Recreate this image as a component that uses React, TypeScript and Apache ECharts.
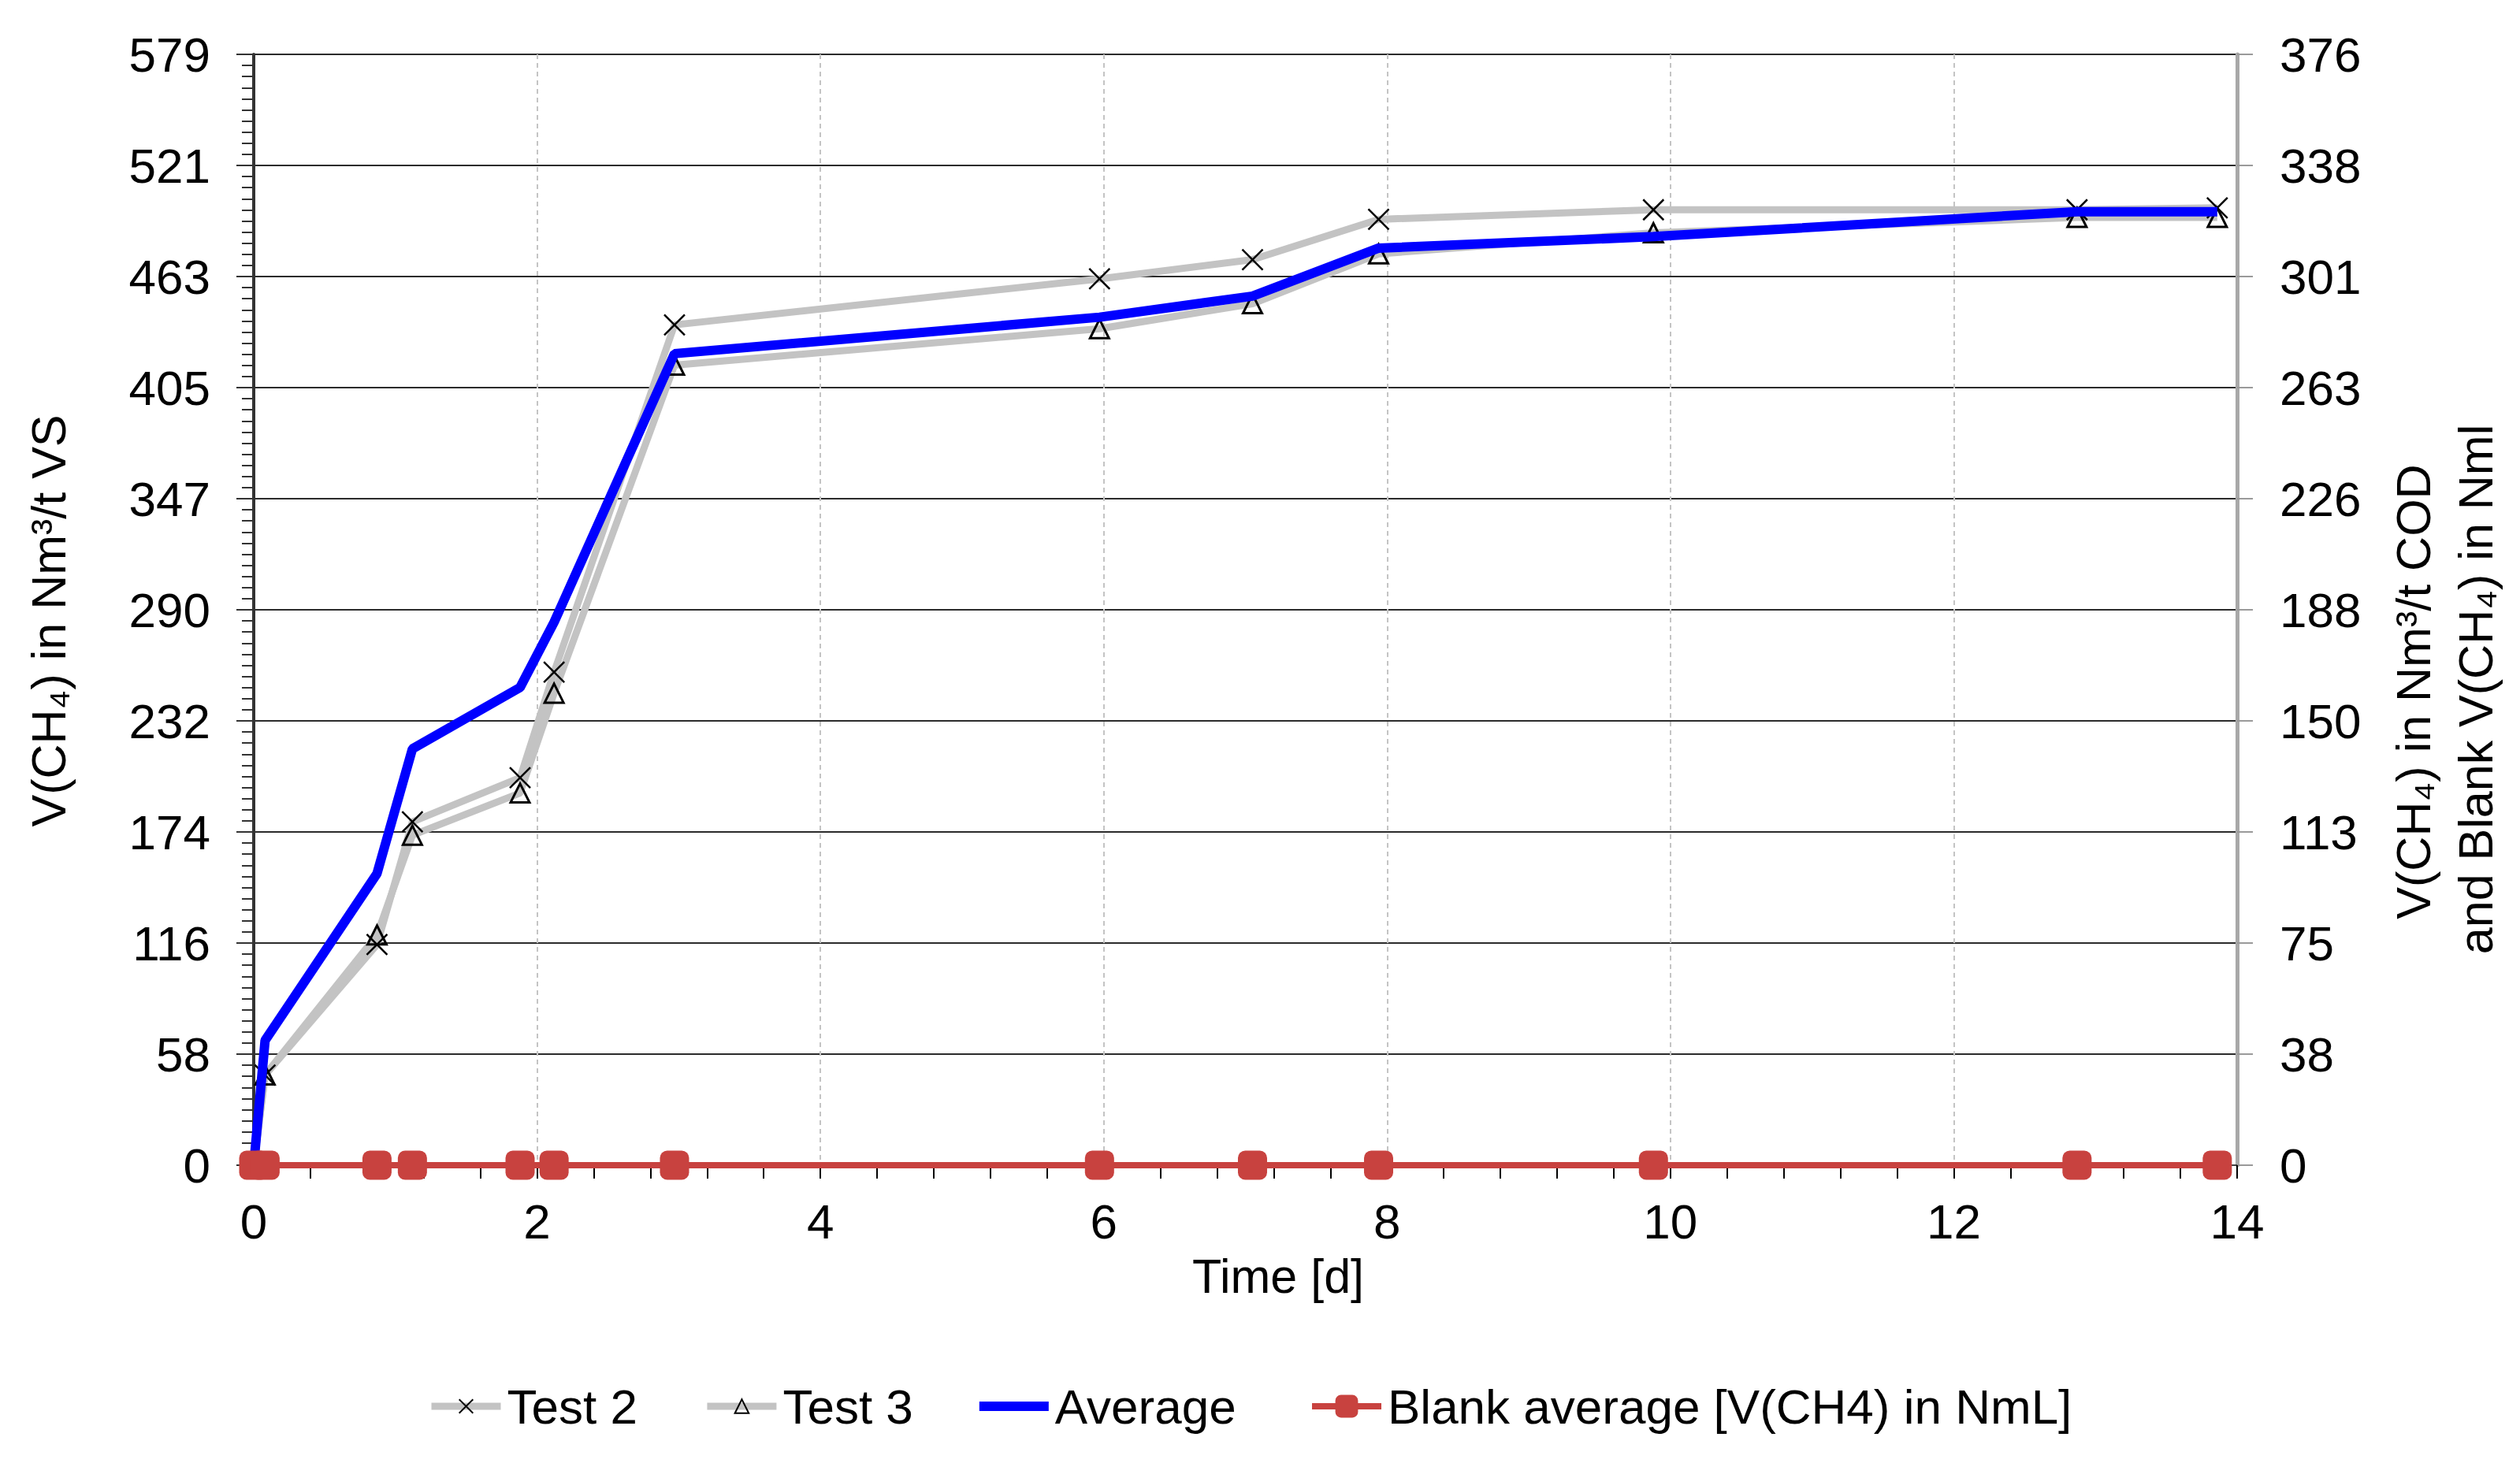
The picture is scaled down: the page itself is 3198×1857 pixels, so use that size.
import React, { useEffect, useRef } from "react";
import * as echarts from "echarts";

// Time in days
const days = [0, 0.08, 0.87, 1.12, 1.88, 2.12, 2.97, 5.97, 7.05, 7.94, 9.88, 12.87, 13.86];
// V(CH4) in Nm3/t VS
const test2 = [0, 47, 115, 179, 202, 257, 438, 462, 472, 493, 498, 498, 499];
const test3 = [0, 47, 120, 172, 194, 246, 417, 436, 449, 475, 486, 494, 494];
const average = [0, 65, 152, 217, 249, 283, 423, 442, 453, 478, 484, 497, 497];
// Blank V(CH4) in NmL (right axis)
const blank = [0, 0, 0, 0, 0, 0, 0, 0, 0, 0, 0, 0, 0];

const leftTickLabels = [0, 58, 116, 174, 232, 290, 347, 405, 463, 521, 579];
const rightTickLabels = [0, 38, 75, 113, 150, 188, 226, 263, 301, 338, 376];
const leftMax = 579;
const leftStep = 57.9;
const rightMax = 376;
const rightStep = 37.6;
const xMax = 14;
const xStep = 2;

const seriesNames = ["Test 2", "Test 3", "Average", "Blank average [V(CH4) in NmL]"];
const leftTitle = "V(CH\u2084) in Nm\u00B3/t VS";
const rightTitle1 = "V(CH\u2084) in Nm\u00B3/t COD";
const rightTitle2 = "and Blank V(CH\u2084) in Nml";
const xTitle = "Time [d]";

const FONT = "'Liberation Sans', Arial, Helvetica, sans-serif";

const pairs = (ys: number[]) => days.map((d, i) => [d, ys[i]]);

export default function App() {
  const ref = useRef<HTMLDivElement>(null);

  useEffect(() => {
    if (!ref.current) return;
    const chart = echarts.init(ref.current, null, { renderer: "svg" });
    const legendText = { fontSize: 62, color: "#000", fontFamily: FONT, padding: [0, 0, 0, 3] };
    const option: any = {
      animation: false,
      backgroundColor: "#ffffff",
      textStyle: { fontFamily: FONT, color: "#000" },
      grid: { left: 322, right: 359, top: 69, bottom: 378, containLabel: false },
      legend: [
        {
          data: [
            seriesNames[0],
            seriesNames[1],
            { name: seriesNames[2], icon: "path://M0,0H88V12H0Z" },
          ],
          left: 538,
          top: 1749,
          itemWidth: 88,
          itemHeight: 22,
          itemGap: 84,
          lineStyle: { width: "inherit" },
          textStyle: legendText,
        },
        {
          data: [seriesNames[3]],
          left: 1656,
          top: 1749,
          itemWidth: 88,
          itemHeight: 36,
          lineStyle: { width: "inherit" },
          textStyle: legendText,
        },
      ],
      xAxis: {
        type: "value",
        min: 0,
        max: xMax,
        interval: xStep,
        axisLine: { show: true, onZero: false, lineStyle: { color: "#404040", width: 2 } },
        axisTick: { show: true, length: 17, lineStyle: { color: "#000", width: 2 } },
        minorTick: { show: true, splitNumber: 5, length: 17, lineStyle: { color: "#000", width: 2 } },
        axisLabel: { fontSize: 62, color: "#000", margin: 40, fontFamily: FONT },
        splitLine: {
          show: true,
          showMinLine: false,
          showMaxLine: false,
          lineStyle: { color: "#c4c4c4", width: 2, type: [6, 5] },
        },
      },
      yAxis: [
        {
          type: "value",
          position: "left",
          min: 0,
          max: leftMax,
          interval: leftStep,
          axisLine: { show: true, lineStyle: { color: "#333333", width: 4 } },
          axisTick: { show: true, length: 22, lineStyle: { color: "#333333", width: 2 } },
          minorTick: { show: true, splitNumber: 10, length: 15, lineStyle: { color: "#333333", width: 2 } },
          axisLabel: {
            fontSize: 62,
            color: "#000",
            margin: 55,
            fontFamily: FONT,
            formatter: (v: number, i: number) => String(leftTickLabels[i] ?? Math.round(v)),
          },
          splitLine: { show: true, lineStyle: { color: "#2b2b2b", width: 2 } },
        },
        {
          type: "value",
          position: "right",
          min: 0,
          max: rightMax,
          interval: rightStep,
          axisLine: { show: true, lineStyle: { color: "#a8a8a8", width: 5 } },
          axisTick: { show: true, length: 20, lineStyle: { color: "#9a9a9a", width: 2 } },
          axisLabel: {
            fontSize: 62,
            color: "#000",
            margin: 54,
            fontFamily: FONT,
            formatter: (v: number, i: number) => String(rightTickLabels[i] ?? Math.round(v)),
          },
          splitLine: { show: false },
        },
      ],
      series: [
        {
          name: seriesNames[0],
          type: "line",
          yAxisIndex: 0,
          data: pairs(test2),
          symbol: "path://M0,0L10,10M10,0L0,10",
          symbolSize: 26,
          lineStyle: { color: "#c3c3c3", width: 9 },
          itemStyle: { color: "rgba(0,0,0,0)", borderColor: "#000", borderWidth: 2.5 },
          clip: false,
          z: 2,
        },
        {
          name: seriesNames[1],
          type: "line",
          yAxisIndex: 0,
          data: pairs(test3),
          symbol: "triangle",
          symbolSize: 24,
          lineStyle: { color: "#c3c3c3", width: 9 },
          itemStyle: { color: "rgba(0,0,0,0)", borderColor: "#000", borderWidth: 3 },
          clip: false,
          z: 2,
        },
        {
          name: seriesNames[2],
          type: "line",
          yAxisIndex: 0,
          data: pairs(average),
          symbol: "none",
          lineStyle: { color: "#0000ff", width: 12 },
          itemStyle: { color: "#0000ff" },
          clip: false,
          z: 3,
        },
        {
          name: seriesNames[3],
          type: "line",
          yAxisIndex: 1,
          data: pairs(blank),
          symbol: "roundRect",
          symbolSize: 37,
          lineStyle: { color: "#c8423f", width: 8 },
          itemStyle: { color: "#c8423f" },
          clip: false,
          z: 4,
        },
      ],
      graphic: [
        {
          type: "text",
          x: 62,
          y: 788,
          rotation: Math.PI / 2,
          style: { text: leftTitle, fontSize: 61, fontFamily: FONT, fill: "#000", align: "center", verticalAlign: "middle" },
        },
        {
          type: "text",
          x: 3063,
          y: 878,
          rotation: Math.PI / 2,
          style: { text: rightTitle1, fontSize: 61, fontFamily: FONT, fill: "#000", align: "center", verticalAlign: "middle" },
        },
        {
          type: "text",
          x: 3142,
          y: 875,
          rotation: Math.PI / 2,
          style: { text: rightTitle2, fontSize: 61, fontFamily: FONT, fill: "#000", align: "center", verticalAlign: "middle" },
        },
        {
          type: "text",
          x: 1622,
          y: 1620,
          style: { text: xTitle, fontSize: 61, fontFamily: FONT, fill: "#000", align: "center", verticalAlign: "middle" },
        },
      ],
    };
    chart.setOption(option);
    return () => chart.dispose();
  }, []);

  return (
    <div
      ref={ref}
      style={{ position: "fixed", left: 0, top: 0, width: 3198, height: 1857, background: "#fff" }}
    />
  );
}
